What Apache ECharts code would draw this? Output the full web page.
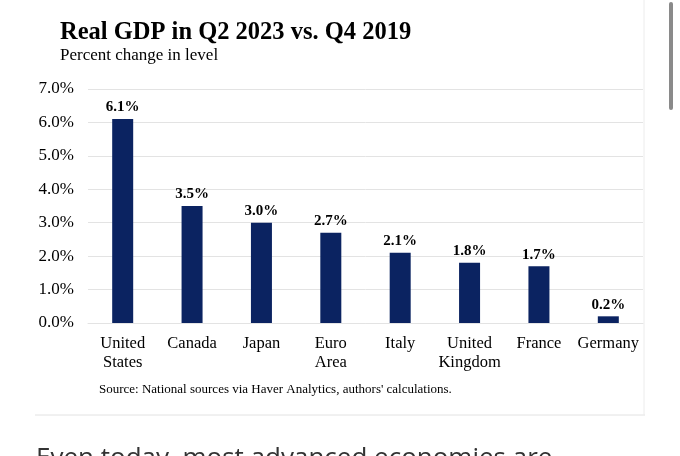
<!DOCTYPE html>
<html>
<head>
  <meta charset="utf-8">
  <script src="https://cdn.jsdelivr.net/npm/echarts@6/dist/echarts.min.js"></script>
  <style>
    html, body { margin: 0; padding: 0; background: #fff; }
  </style>
</head>
<body>
<div id="main" style="width: 680px; height: 456px"></div>
<script>
  // data
  const countries = ['United\nStates', 'Canada', 'Japan', 'Euro\nArea', 'Italy', 'United\nKingdom', 'France', 'Germany'];
  const gdpChange = [6.1, 3.5, 3.0, 2.7, 2.1, 1.8, 1.7, 0.2];
  const titleText = 'Real GDP in Q2 2023 vs. Q4 2019';
  const subtitleText = 'Percent change in level';
  const sourceText = "Source: National sources via Haver Analytics, authors' calculations.";
  const bodyText = 'Even today, most advanced economies are';

  const serif = '"Liberation Serif", "Times New Roman", serif';
  const navy = '#0b2361';

  const myChart = echarts.init(document.getElementById('main'));
  myChart.setOption({
    backgroundColor: '#fff',
    animation: false,
    title: [{
      text: titleText,
      left: 55,
      top: 15,
      textStyle: { fontFamily: serif, fontSize: 24.5, fontWeight: 'bold', color: '#000' }
    }, {
      text: subtitleText,
      left: 55,
      top: 42,
      textStyle: { fontFamily: serif, fontSize: 17, fontWeight: 'normal', color: '#000' }
    }],
    grid: { left: 88, right: 37, top: 89, bottom: 133 },
    xAxis: {
      type: 'category',
      data: countries,
      axisLine: { show: true, lineStyle: { color: '#e3e3e3' } },
      axisTick: { show: false },
      axisLabel: { fontFamily: serif, fontSize: 16.5, color: '#000', margin: 11, lineHeight: 19, interval: 0 }
    },
    yAxis: {
      type: 'value',
      min: 0,
      max: 7,
      interval: 1,
      axisLine: { show: false },
      axisTick: { show: false },
      splitLine: { lineStyle: { color: '#e3e3e3' } },
      axisLabel: {
        fontFamily: serif, fontSize: 17, color: '#000', margin: 14,
        formatter: v => v.toFixed(1) + '%'
      }
    },
    series: [{
      type: 'bar',
      data: gdpChange,
      barWidth: 21,
      itemStyle: { color: navy },
      label: {
        show: true,
        position: 'top',
        distance: 4,
        fontFamily: serif,
        fontSize: 15,
        fontWeight: 'bold',
        color: '#000',
        formatter: p => p.value.toFixed(1) + '%'
      }
    }],
    graphic: [
      {
        type: 'text', left: 99, top: 383,
        style: { text: sourceText, font: '13px ' + serif, fill: '#000' }
      },
      // card edges
      { type: 'line', shape: { x1: 35, y1: 415, x2: 645, y2: 415 }, style: { stroke: '#e2e2e2', lineWidth: 1 } },
      { type: 'line', shape: { x1: 644, y1: 0, x2: 644, y2: 415 }, style: { stroke: '#ececec', lineWidth: 1 } },
      // scrollbar
      { type: 'rect', shape: { x: 669, y: 2, width: 4, height: 108, r: 2 }, style: { fill: '#8a8a8a' } },
      {
        type: 'text', left: 36, top: 446,
        style: { text: bodyText, font: '26px "Open Sans", "Noto Sans", sans-serif', fill: '#333' }
      }
    ]
  });
</script>
</body>
</html>
